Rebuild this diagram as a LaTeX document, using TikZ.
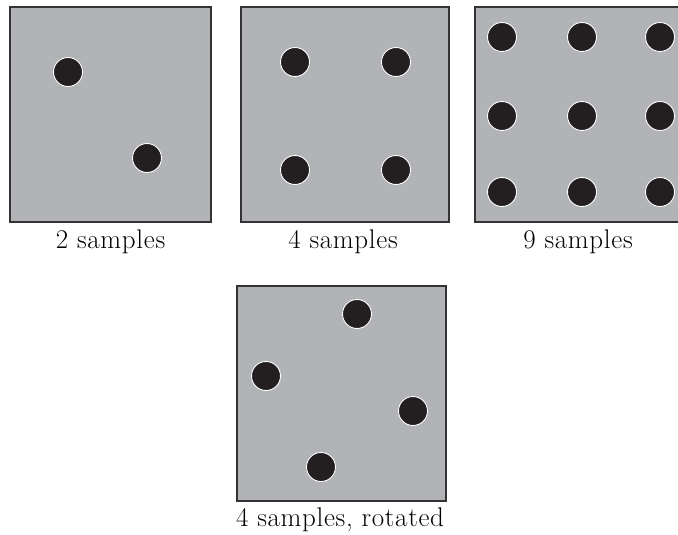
\documentclass[tikz,border=0pt]{standalone}
\usepackage{fontspec}
\setmainfont{Latin Modern Roman}[LetterSpace=2.5]
\begin{document}
\begin{tikzpicture}[x=1pt,y=-1pt,
  panel/.style={draw=black!80,line width=1.1pt,fill=panelgray,inner sep=0pt,outer sep=0pt},
  dot/.style={circle,fill=dotblack,draw=white,line width=0.9pt,minimum size=29pt,inner sep=0pt},
  lab/.style={anchor=base,inner sep=0pt,font=\fontsize{27}{31}\selectfont}]
\definecolor{panelgray}{RGB}{178,179,182}
\definecolor{dotblack}{RGB}{35,31,32}
\useasboundingbox (0,0) rectangle (678,535);
\clip (0,0) rectangle (678,535);
% panel 1
\node[panel,minimum width=201pt,minimum height=215pt] (p1) at (110.5,114.5) {};
\node[dot] (a1) at (68,72) {};
\node[dot] (a2) at (147,158) {};
\node[lab] (l1) at (110.5,248) {2 samples};
% panel 2
\node[panel,minimum width=208pt,minimum height=215pt] (p2) at (345,114.5) {};
\node[dot] (b1) at (295,62) {};
\node[dot] (b2) at (396,62) {};
\node[dot] (b3) at (295,170) {};
\node[dot] (b4) at (396,170) {};
\node[lab] (l2) at (343,248) {4 samples};
% panel 3
\node[panel,minimum width=208pt,minimum height=215pt] (p3) at (579,114.5) {};
\foreach \i/\x in {1/502,2/582,3/660}{
  \foreach \j/\y in {1/37,2/116,3/192}{
    \node[dot] (c\i\j) at (\x,\y) {};
  }
}
\node[lab] (l3) at (578,248) {9 samples};
% panel 4
\node[panel,minimum width=209pt,minimum height=215pt] (p4) at (341.5,393.5) {};
\node[dot] (d1) at (357,314) {};
\node[dot] (d2) at (266,376) {};
\node[dot] (d3) at (413,411) {};
\node[dot] (d4) at (321,467) {};
\node[lab] (l4) at (340,526) {4 samples, rotated};
\end{tikzpicture}
\end{document}
